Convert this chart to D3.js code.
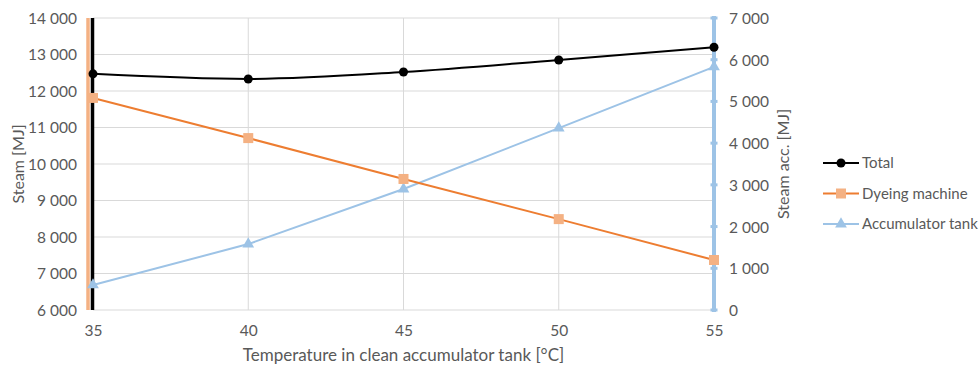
<!DOCTYPE html>
<html>
<head>
<meta charset="utf-8">
<script src="https://cdn.jsdelivr.net/npm/d3@7/dist/d3.min.js"></script>
<style>
  html, body { margin: 0; padding: 0; background: #fff; }
  svg text { font-family: Lato, "Open Sans", sans-serif; fill: #595959; }
</style>
</head>
<body>
<svg id="chart" width="979" height="370"></svg>
<script>
// Temperatures in the clean accumulator tank [°C]
const temperatures = [35, 40, 45, 50, 55];
// Steam consumption [MJ]
const totalSteam = [12470, 12330, 12520, 12850, 13200];
const dyeingSteam = [11810, 10710, 9590, 8490, 7370];
// Steam drawn by the accumulator [MJ] (right axis)
const accumulatorSteam = [600, 1580, 2900, 4360, 5830];

const leftTicks = [6000, 7000, 8000, 9000, 10000, 11000, 12000, 13000, 14000];
const rightTicks = [0, 1000, 2000, 3000, 4000, 5000, 6000, 7000];
const seriesNames = ["Total", "Dyeing machine", "Accumulator tank"];

const colors = { total: "#000000", dye: "#ED7D31", dyeMarker: "#F4B183", acc: "#9DC3E6", accAxis: "#9DC3E6" };

const svg = d3.select("#chart");
const plot = { left: 93, right: 714, top: 18, bottom: 310 };

const fmt = v => d3.format(",")(v).replace(/,/g, " ");

const x = d3.scaleLinear().domain([35, 55]).range([plot.left, plot.right]);
const yL = d3.scaleLinear().domain([6000, 14000]).range([plot.bottom, plot.top]);
const yR = d3.scaleLinear().domain([0, 7000]).range([plot.bottom, plot.top]);

// Gridlines
const grid = svg.append("g");
grid.selectAll("line.h").data(leftTicks).join("line")
  .attr("x1", plot.left).attr("x2", plot.right)
  .attr("y1", d => yL(d)).attr("y2", d => yL(d))
  .attr("stroke", "#d9d9d9").attr("stroke-width", 1);
grid.selectAll("line.v").data(temperatures.slice(1, -1)).join("line")
  .attr("x1", d => x(d)).attr("x2", d => x(d))
  .attr("y1", plot.top).attr("y2", plot.bottom)
  .attr("stroke", "#d9d9d9").attr("stroke-width", 1);

// Left axis labels
const leftAxis = svg.append("g").attr("transform", `translate(${plot.left - 16},0)`)
  .call(d3.axisLeft(yL).tickValues(leftTicks).tickFormat(fmt).tickSize(0).tickPadding(0));
leftAxis.select(".domain").remove();
leftAxis.selectAll("text").style("font-size", "15.5px").attr("dy", "0.35em");

// Right axis labels
const rightAxis = svg.append("g").attr("transform", `translate(${plot.right + 15},0)`)
  .call(d3.axisRight(yR).tickValues(rightTicks).tickFormat(fmt).tickSize(0).tickPadding(0));
rightAxis.select(".domain").remove();
rightAxis.selectAll("text").style("font-size", "15.5px").attr("dy", "0.35em");

// Bottom axis labels
const bottomAxis = svg.append("g").attr("transform", `translate(0,${plot.bottom + 15})`)
  .call(d3.axisBottom(x).tickValues(temperatures).tickSize(0).tickPadding(0));
bottomAxis.select(".domain").remove();
bottomAxis.selectAll("text").style("font-size", "15.5px").attr("dy", "0.71em");

// Axis lines: orange and black on the left, blue on the right
svg.append("line").attr("x1", plot.left - 5).attr("x2", plot.left - 5)
  .attr("y1", plot.top).attr("y2", plot.bottom)
  .attr("stroke", colors.dyeMarker).attr("stroke-width", 3.5);
svg.append("line").attr("x1", plot.left - 0.5).attr("x2", plot.left - 0.5)
  .attr("y1", plot.top).attr("y2", plot.bottom)
  .attr("stroke", colors.total).attr("stroke-width", 3.5);
svg.append("line").attr("x1", plot.right).attr("x2", plot.right)
  .attr("y1", plot.top - 2).attr("y2", plot.bottom + 2)
  .attr("stroke", colors.accAxis).attr("stroke-width", 4);
svg.append("g").selectAll("rect").data(rightTicks).join("rect")
  .attr("x", plot.right - 3.5).attr("y", d => yR(d) - 1.5)
  .attr("width", 7).attr("height", 3)
  .attr("fill", colors.accAxis);

// Axis titles
svg.append("text").attr("transform", `translate(24,${164}) rotate(-90)`)
  .attr("text-anchor", "middle").style("font-size", "16px").text("Steam [MJ]");
svg.append("text").attr("transform", `translate(789,${164}) rotate(-90)`)
  .attr("text-anchor", "middle").style("font-size", "16px").text("Steam acc. [MJ]");
svg.append("text").attr("x", (plot.left + plot.right) / 2).attr("y", 361)
  .attr("text-anchor", "middle").style("font-size", "17px")
  .text("Temperature in clean accumulator tank [°C]");

// Series
const totalLine = d3.line().x((d, i) => x(temperatures[i])).y(d => yL(d)).curve(d3.curveMonotoneX);
const dyeLine = d3.line().x((d, i) => x(temperatures[i])).y(d => yL(d));
const accLine = d3.line().x((d, i) => x(temperatures[i])).y(d => yR(d));

svg.append("path").datum(accumulatorSteam).attr("d", accLine)
  .attr("fill", "none").attr("stroke", colors.acc).attr("stroke-width", 2);
svg.append("path").datum(dyeingSteam).attr("d", dyeLine)
  .attr("fill", "none").attr("stroke", colors.dye).attr("stroke-width", 2);
svg.append("path").datum(totalSteam).attr("d", totalLine)
  .attr("fill", "none").attr("stroke", colors.total).attr("stroke-width", 2);

const tri = d3.symbol().type(d3.symbolTriangle).size(60);
svg.append("g").selectAll("path").data(accumulatorSteam).join("path")
  .attr("d", tri)
  .attr("transform", (d, i) => `translate(${x(temperatures[i])},${yR(d)})`)
  .attr("fill", colors.acc);
svg.append("g").selectAll("rect").data(dyeingSteam).join("rect")
  .attr("x", (d, i) => x(temperatures[i]) - 5).attr("y", d => yL(d) - 5)
  .attr("width", 10).attr("height", 10).attr("fill", colors.dyeMarker);
svg.append("g").selectAll("circle").data(totalSteam).join("circle")
  .attr("cx", (d, i) => x(temperatures[i])).attr("cy", d => yL(d))
  .attr("r", 4.5).attr("fill", colors.total);

// Legend
const legend = svg.append("g").attr("transform", "translate(823,163)");
seriesNames.forEach((name, i) => {
  const g = legend.append("g").attr("transform", `translate(0,${i * 30.5})`);
  const c = i === 0 ? colors.total : i === 1 ? colors.dye : colors.acc;
  g.append("line").attr("x1", 0).attr("x2", 36).attr("stroke", c).attr("stroke-width", 2);
  if (i === 0) g.append("circle").attr("cx", 18).attr("r", 4.5).attr("fill", colors.total);
  if (i === 1) g.append("rect").attr("x", 13).attr("y", -5).attr("width", 10).attr("height", 10).attr("fill", colors.dyeMarker);
  if (i === 2) g.append("path").attr("d", tri).attr("transform", "translate(18,0)").attr("fill", colors.acc);
  g.append("text").attr("x", 39).attr("dy", "0.35em").style("font-size", "15px").text(name);
});
</script>
</body>
</html>
